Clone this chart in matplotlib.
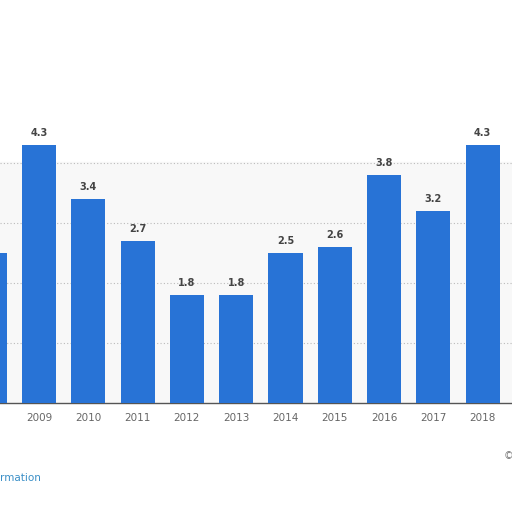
import matplotlib.pyplot as plt

# values (2008 is cut off at the left edge)
years = ['2008', '2009', '2010', '2011', '2012', '2013', '2014', '2015', '2016', '2017', '2018']
values = [2.5, 4.3, 3.4, 2.7, 1.8, 1.8, 2.5, 2.6, 3.8, 3.2, 4.3]
labels = ['2.5', '4.3', '3.4', '2.7', '1.8', '1.8', '2.5', '2.6', '3.8', '3.2', '4.3']

bar_color = '#2873d6'

fig = plt.figure(figsize=(5.12, 5.12), dpi=100)
ax = fig.add_axes([0, 1 - 403 / 512, 1, 300 / 512])

x = list(range(len(years)))
ax.axhspan(0, 4.02, color='#f8f8f8', zorder=0)
ax.bar(x, values, width=0.69, color=bar_color, zorder=3)

for xi, v, lab in zip(x, values, labels):
    ax.text(xi, v + 0.12, lab, ha='center', va='bottom', fontsize=7,
            fontweight='bold', color='#444444', zorder=4)

ax.set_xticks(x)
ax.set_xticklabels(years, fontsize=7.5, color='#666666')
ax.tick_params(axis='x', length=0, pad=7)
ax.set_yticks([1, 2, 3, 4])
ax.set_yticklabels([])
ax.tick_params(axis='y', length=0)
# limits after the ticks, so set_xticks does not widen them
ax.set_xlim(0.209, 10.594)
ax.set_ylim(0, 5)
ax.grid(axis='y', linestyle=(0, (1, 2)), color='#bbbbbb', linewidth=0.8, zorder=1)

for side in ['top', 'left', 'right']:
    ax.spines[side].set_visible(False)
ax.spines['bottom'].set_color('#555555')
ax.spines['bottom'].set_linewidth(1.0)
ax.set_facecolor('white')

fig.text(0.0, 1 - 478 / 512, 'rmation', fontsize=7.5, color='#3a8fc7',
         ha='left', va='center')
fig.text(504 / 512, 1 - 456 / 512, '©', fontsize=7, color='#777777',
         ha='left', va='center')

fig.savefig('out.png', dpi=100, facecolor='white')
